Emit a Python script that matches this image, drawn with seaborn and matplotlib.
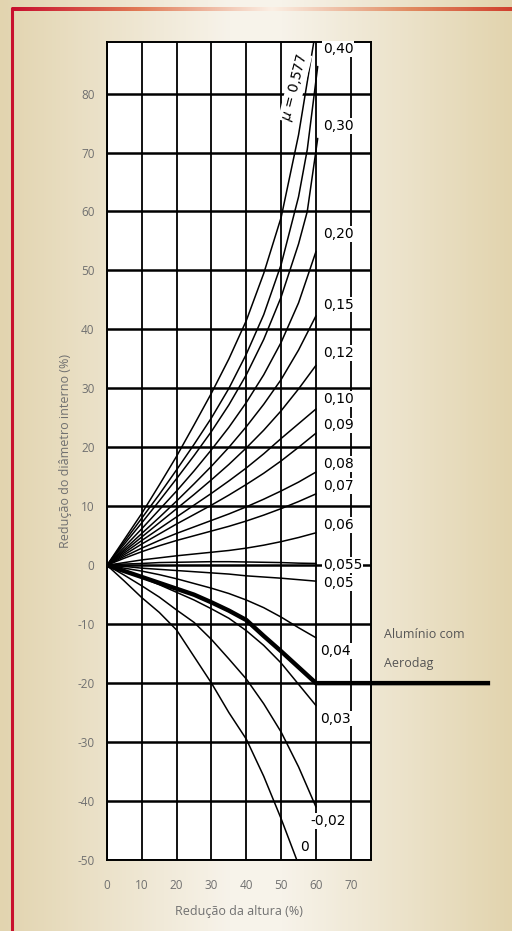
import numpy as np
import pandas as pd
import matplotlib
matplotlib.use("Agg")
import matplotlib.pyplot as plt
import seaborn as sns
from matplotlib.colors import LinearSegmentedColormap
from matplotlib.lines import Line2D

sns.set_style("white")
plt.rcParams['font.family'] = ['Open Sans', 'DejaVu Sans']
plt.rcParams['axes.unicode_minus'] = False

# ---- data -------------------------------------------------------------
# height reduction (%) sampling positions
x_std = [0, 5, 10, 15, 20, 25, 30, 35, 40, 45, 50, 55, 60]
x_steep = [0, 5, 10, 15, 20, 25, 30, 35, 40, 45, 50, 55, 57.5, 60.5]
x_mu0 = [0, 5, 10, 15, 20, 25, 30, 35, 40, 45, 50, 54.5]

# decrease of internal diameter (%) for each friction factor
mu_0577 = [0, 4.4, 8.8, 13.6, 18.5, 23.8, 29.2, 35.0, 41.5, 49.5, 59.0, 73.0, 91.0]
mu_040 = [0, 4.0, 8.0, 12.0, 16.2, 20.5, 25.0, 30.0, 35.8, 42.5, 51.0, 62.5, 70.5, 84.6]
mu_030 = [0, 3.6, 7.2, 10.9, 14.7, 18.6, 22.7, 27.2, 32.3, 38.3, 45.5, 54.5, 60.0, 72.4]
mu_020 = [0, 3.1, 6.2, 9.4, 12.6, 16.0, 19.6, 23.4, 27.6, 32.3, 37.8, 44.5, 53.2]
mu_015 = [0, 2.7, 5.4, 8.1, 10.9, 13.8, 16.8, 20.0, 23.5, 27.3, 31.5, 36.5, 42.3]
mu_012 = [0, 2.4, 4.8, 7.2, 9.6, 12.0, 14.5, 17.1, 19.9, 22.9, 26.2, 29.9, 33.9]
mu_010 = [0, 2.1, 4.2, 6.2, 8.2, 10.2, 12.2, 14.3, 16.5, 18.9, 21.5, 24.0, 26.5]
mu_009 = [0, 1.8, 3.6, 5.3, 7.0, 8.6, 10.2, 11.9, 13.7, 15.6, 17.7, 20.0, 22.4]
mu_008 = [0, 1.5, 2.9, 4.2, 5.4, 6.5, 7.6, 8.7, 9.9, 11.2, 12.6, 14.1, 15.8]
mu_007 = [0, 1.2, 2.3, 3.3, 4.2, 5.0, 5.8, 6.6, 7.5, 8.5, 9.6, 10.8, 12.1]
mu_006 = [0, 0.45, 0.9, 1.25, 1.6, 1.9, 2.2, 2.5, 2.9, 3.4, 4.0, 4.7, 5.5]
mu_0055 = [0, 0.2, 0.3, 0.45, 0.5, 0.55, 0.6, 0.6, 0.55, 0.5, 0.45, 0.35, 0.3]
mu_005 = [0, -0.2, -0.5, -0.7, -0.9, -1.1, -1.3, -1.5, -1.8, -2.0, -2.2, -2.45, -2.7]
mu_004 = [0, -0.5, -1.0, -1.6, -2.3, -3.1, -3.9, -4.8, -5.9, -7.2, -8.8, -10.6, -12.3]
mu_003 = [0, -1.0, -2.1, -3.3, -4.6, -5.9, -7.4, -9.0, -11.1, -13.6, -16.6, -20.2, -23.8]
mu_002 = [0, -1.7, -3.5, -5.4, -7.6, -9.7, -12.6, -15.9, -19.3, -23.5, -28.3, -34.2, -41.0]
mu_000 = [0, -2.7, -5.5, -8.0, -11.0, -15.5, -20.0, -25.0, -29.5, -35.8, -43.0, -50.0]

# aluminium ring lubricated with Aerodag
aerodag_x = [0, 5, 10, 15, 20, 25, 30, 35, 40, 45, 50, 55, 60, 110]
aerodag_y = [0, -1.0, -2.0, -3.0, -4.0, -5.0, -6.3, -7.7, -9.3, -12.0, -14.6, -17.3, -20.0, -20.0]

curve_names = ["0,577", "0,40", "0,30", "0,20", "0,15", "0,12", "0,10", "0,09",
               "0,08", "0,07", "0,06", "0,055", "0,05", "0,04", "0,03", "0,02", "0"]
curve_values = [mu_0577, mu_040, mu_030, mu_020, mu_015, mu_012, mu_010, mu_009,
                mu_008, mu_007, mu_006, mu_0055, mu_005, mu_004, mu_003, mu_002, mu_000]
curve_x = {"0,40": x_steep, "0,30": x_steep, "0": x_mu0}

# curve labels: text, x, y
label_text = ["0,40", "0,30", "0,20", "0,15", "0,12", "0,10", "0,09", "0,08",
              "0,07", "0,06", "0,055", "0,05", "0,04", "0,03", "-0,02", "0"]
label_x = [62.0, 62.0, 62.0, 62.0, 62.0, 62.0, 62.0, 62.0,
           62.0, 62.0, 62.0, 62.0, 61.2, 61.2, 58.3, 55.5]
label_y = [87.6, 74.5, 56.2, 44.2, 36.0, 28.2, 23.7, 17.2,
           13.4, 6.8, 0.0, -3.0, -14.5, -26.0, -43.4, -47.8]

x_ticks = [0, 10, 20, 30, 40, 50, 60, 70]
y_ticks = [80, 70, 60, 50, 40, 30, 20, 10, 0, -10, -20, -30, -40, -50]

# ---- long table for seaborn --------------------------------------------
rows = []
for name, vals in zip(curve_names, curve_values):
    xs = curve_x.get(name, x_std)
    for xv, yv in zip(xs, vals):
        rows.append({"altura": xv, "diametro": yv, "mu": name})
df = pd.DataFrame(rows)
df_al = pd.DataFrame({"altura": aerodag_x, "diametro": aerodag_y})

# ---- figure -----------------------------------------------------------
W, H = 512, 931
fig = plt.figure(figsize=(W / 100, H / 100), dpi=100)

# beige page background with a light centre
bg = fig.add_axes([0, 0, 1, 1], zorder=-10)
bg.set_axis_off()
cmap = LinearSegmentedColormap.from_list(
    "page", [(0.0, "#e2d4af"), (0.45, "#f7f3ea"), (0.55, "#f7f3ea"), (1.0, "#e2d4ae")])
bg.imshow(np.linspace(0, 1, 256)[None, :], aspect="auto", cmap=cmap,
          extent=[0, 1, 0, 1], transform=bg.transAxes)
bg.set_xlim(0, 1)
bg.set_ylim(0, 1)

# red frame at top and left
top_cmap = LinearSegmentedColormap.from_list(
    "topbar", [(0.0, "#c8102e"), (0.25, "#e07a55"), (0.52, "#fbefe4"), (0.8, "#e08a60"), (1.0, "#d0402e")])
bg.imshow(np.linspace(0, 1, 256)[None, :], aspect="auto", cmap=top_cmap,
          extent=[12 / W, 1, 1 - 11 / H, 1 - 7.5 / H], zorder=2)
fig.add_artist(Line2D([12 / W, 12 / W], [0, 1 - 8 / H], color="#c8102e", lw=2.2))

ax = fig.add_axes([107 / W, 1 - 860 / H, (371 - 107) / W, (860 - 41.7) / H])
ax.set_facecolor("white")

sns.lineplot(data=df, x="altura", y="diametro", units="mu", estimator=None,
             sort=False, color="black", lw=1.1, ax=ax, legend=False, zorder=3)
sns.lineplot(data=df_al, x="altura", y="diametro", estimator=None, sort=False,
             color="black", lw=3.2, ax=ax, legend=False, zorder=4,
             clip_on=False, solid_capstyle="butt", solid_joinstyle="miter")

ax.set_xlim(0, 75.8)
ax.set_ylim(-50, 88.8)
ax.set_xticks(x_ticks)
ax.set_xticklabels([str(v) for v in x_ticks])
ax.set_yticks(y_ticks)
ax.set_yticklabels([str(v) for v in y_ticks])
ax.tick_params(axis="y", length=0, labelsize=8.5, labelcolor="#707070", pad=9)
ax.tick_params(axis="x", length=0, labelsize=8.5, labelcolor="#707070", pad=14)
ax.xaxis.grid(True, color="black", lw=1.3)
ax.yaxis.grid(True, color="black", lw=1.8)
ax.set_axisbelow(True)
for s in ax.spines.values():
    s.set_color("black")
    s.set_linewidth(1.4)

ax.set_xlabel("Redução da altura (%)", fontsize=9, color="#707070", labelpad=9)
ax.set_ylabel("Redução do diâmetro interno (%)", fontsize=9, color="#707070", labelpad=4)

label_font = ["Liberation Sans Narrow", "DejaVu Sans"]
for t, lx, ly in zip(label_text, label_x, label_y):
    ax.text(lx, ly, t, fontsize=10, family=label_font, ha="left", va="center",
            color="black", zorder=5,
            bbox=dict(facecolor="white", edgecolor="none", pad=0.6))
ax.text(54.0, 81.0, r"$\mu$ = 0,577", fontsize=10, family=label_font,
        rotation=76, ha="center", va="center", color="black", zorder=5,
        bbox=dict(facecolor="white", edgecolor="none", pad=0.4))

ax.text(79.5, -11.8, "Alumínio com", fontsize=9, color="#555555",
        ha="left", va="center", clip_on=False)
ax.text(79.5, -16.6, "Aerodag", fontsize=9, color="#555555",
        ha="left", va="center", clip_on=False)

fig.savefig("out.png", dpi=100)
